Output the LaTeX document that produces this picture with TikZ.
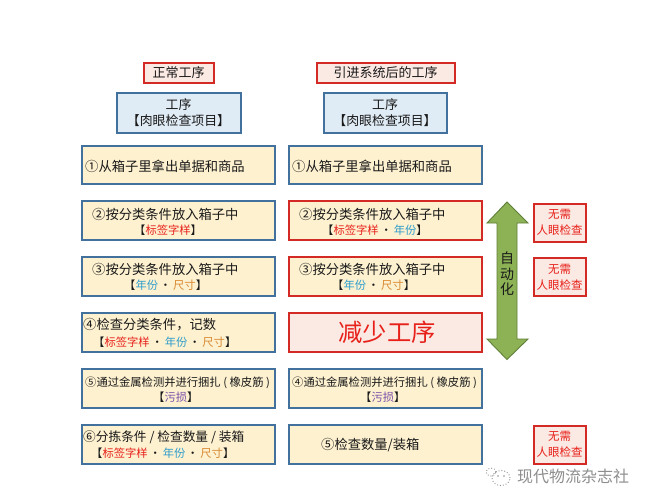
\documentclass[tikz,border=0pt]{standalone}
\usepackage{fontspec}
\setmainfont{Noto Sans CJK SC}
\usetikzlibrary{calc}
\definecolor{bluedge}{HTML}{41719C}
\definecolor{rededge}{HTML}{D42A25}
\definecolor{creamfill}{HTML}{FDF1D0}
\definecolor{paleblue}{HTML}{DFEBF5}
\definecolor{palered}{HTML}{FBE9E3}
\definecolor{labred}{HTML}{E8201A}
\definecolor{labblue}{HTML}{2E9CCB}
\definecolor{laborange}{HTML}{D98A32}
\definecolor{labpurple}{HTML}{7A4FA8}
\definecolor{arrowgreen}{HTML}{8DB255}
\definecolor{arrowedge}{HTML}{5F7F38}
\definecolor{wmgray}{HTML}{8E8E8E}
\newcommand{\LR}{\textcolor{labred}{标签字样}}
\newcommand{\LB}{\textcolor{labblue}{年份}}
\newcommand{\LO}{\textcolor{laborange}{尺寸}}
\newcommand{\LP}{\textcolor{labpurple}{污损}}
\newcommand{\Dot}{\,·\,}
\newcommand{\Sm}{\fontsize{11.3}{15}\selectfont}
\tikzset{
  x=1pt,y=-1pt,
  basebox/.style={draw,line width=2pt,align=center,inner sep=0pt,text=black!90,font=\fontsize{12.9}{16}\selectfont},
  procbox/.style={basebox,draw=bluedge,fill=creamfill},
  autobox/.style={basebox,draw=rededge,fill=creamfill},
  headbox/.style={basebox,draw=bluedge,fill=paleblue},
  titlebox/.style={basebox,draw=rededge,fill=palered,font=\fontsize{13}{15}\selectfont},
  notebox/.style={basebox,draw=rededge,fill=palered,text=labred,font=\fontsize{11.5}{16}\selectfont},
  bigbox/.style={basebox,draw=rededge,fill=palered,text=labred,font=\fontsize{24.3}{28}\selectfont},
  txt/.style={inner sep=0pt,text=black!90,font=\fontsize{13.3}{16.5}\selectfont,anchor=west,align=left},
  longtxt/.style={txt,font=\fontsize{11.3}{15}\selectfont},
  subtxt/.style={txt,font=\Sm},
}
\begin{document}
\begin{tikzpicture}
\useasboundingbox (0,0) rectangle (649,504);
\fill[white] (0,0) rectangle (649,504);
% titles
\node[titlebox,minimum width=70pt,minimum height=20pt] (t1) at (178.5,72.5) {正常工序};
\node[titlebox,minimum width=138pt,minimum height=20pt] (t2) at (385.5,72.5) {引进系统后的工序};
\node[headbox,minimum width=124pt,minimum height=40pt] (h1) at (178.5,112.5) {工序\\【肉眼检查项目】};
\node[headbox,minimum width=123pt,minimum height=40pt] (h2) at (385,112.5) {工序\\【肉眼检查项目】};
% left column
\node[procbox,minimum width=193pt,minimum height=37.5pt] (l1) at (178,165) {};
\node[txt] at (85,166) {①从箱子里拿出单据和商品};
\node[procbox,minimum width=193pt,minimum height=38.5pt] (l2) at (178,220.5) {};
\node[txt] at (92,214) {②按分类条件放入箱子中};
\node[subtxt] at (134,230) {【\LR】};
\node[procbox,minimum width=193pt,minimum height=38.5pt] (l3) at (178,276.5) {};
\node[txt] at (92,269.5) {③按分类条件放入箱子中};
\node[subtxt] at (124,285) {【\LB\Dot\LO】};
\node[procbox,minimum width=193pt,minimum height=38.5pt] (l4) at (178,332.5) {};
\node[txt] at (83,325) {④检查分类条件，记数};
\node[subtxt] at (93,342) {【\LR\Dot\LB\Dot\LO】};
\node[procbox,minimum width=193pt,minimum height=38.5pt] (l5) at (178,388.5) {};
\node[longtxt] at (85,382.5) {⑤通过金属检测并进行捆扎 ( 橡皮筋 )};
\node[subtxt] at (153,397.5) {【\LP】};
\node[procbox,minimum width=193pt,minimum height=38.5pt] (l6) at (178,444.5) {};
\node[txt,font=\fontsize{12.7}{16}\selectfont] at (83,437) {⑥分拣条件 / 检查数量 / 装箱};
\node[subtxt] at (91,453) {【\LR\Dot\LB\Dot\LO】};
% right column
\node[procbox,minimum width=193pt,minimum height=37.5pt] (r1) at (385,165) {};
\node[txt] at (292,166) {①从箱子里拿出单据和商品};
\node[autobox,minimum width=193pt,minimum height=38.5pt] (r2) at (385,220.5) {};
\node[txt] at (299,214) {②按分类条件放入箱子中};
\node[subtxt] at (322,230) {【\LR\Dot\LB】};
\node[autobox,minimum width=193pt,minimum height=38.5pt] (r3) at (385,276.5) {};
\node[txt] at (299,269.5) {③按分类条件放入箱子中};
\node[subtxt] at (332,285) {【\LB\Dot\LO】};
\node[bigbox,minimum width=193pt,minimum height=38.5pt] (r4) at (385,332.5) {\hspace{4pt}减少工序};
\node[procbox,minimum width=193pt,minimum height=38.5pt] (r5) at (385,388.5) {};
\node[longtxt] at (292,382.5) {④通过金属检测并进行捆扎 ( 橡皮筋 )};
\node[subtxt] at (360,397.5) {【\LP】};
\node[procbox,minimum width=193pt,minimum height=38.5pt] (r6) at (385,444.5) {};
\node[txt] at (321,445.5) {⑤检查数量/装箱};
% notes
\node[notebox,minimum width=52pt,minimum height=38pt] (n1) at (559.5,222.5) {无需\\人眼检查};
\node[notebox,minimum width=52pt,minimum height=38pt] (n2) at (559.5,277) {无需\\人眼检查};
\node[notebox,minimum width=52pt,minimum height=38pt] (n3) at (559.5,444.5) {无需\\人眼检查};
% double arrow
\filldraw[fill=arrowgreen,draw=arrowedge,line width=.9pt,line join=miter]
  (507,202) -- (528,223) -- (517,223) -- (517,339) -- (528,339) -- (507,359.5)
  -- (487,339) -- (497,339) -- (497,223) -- (487,223) -- cycle;
\node[inner sep=0pt,align=center,text=black!90,font=\fontsize{14}{15.5}\selectfont] (auto) at (507,274) {自\\动\\化};
% watermark
\begin{scope}[wmgray,line width=.9pt]
  \draw[dotted] (501,478) ellipse [x radius=9pt,y radius=7.5pt];
  \draw[dotted] (491,472) ellipse [x radius=5pt,y radius=4pt];
  \fill (498,476) circle (.9pt) (504,476) circle (.9pt);
\end{scope}
\node[inner sep=0pt,anchor=west,text=wmgray,font=\fontsize{16}{18}\selectfont] (wm) at (517,476) {现代物流杂志社};
\end{tikzpicture}
\end{document}
